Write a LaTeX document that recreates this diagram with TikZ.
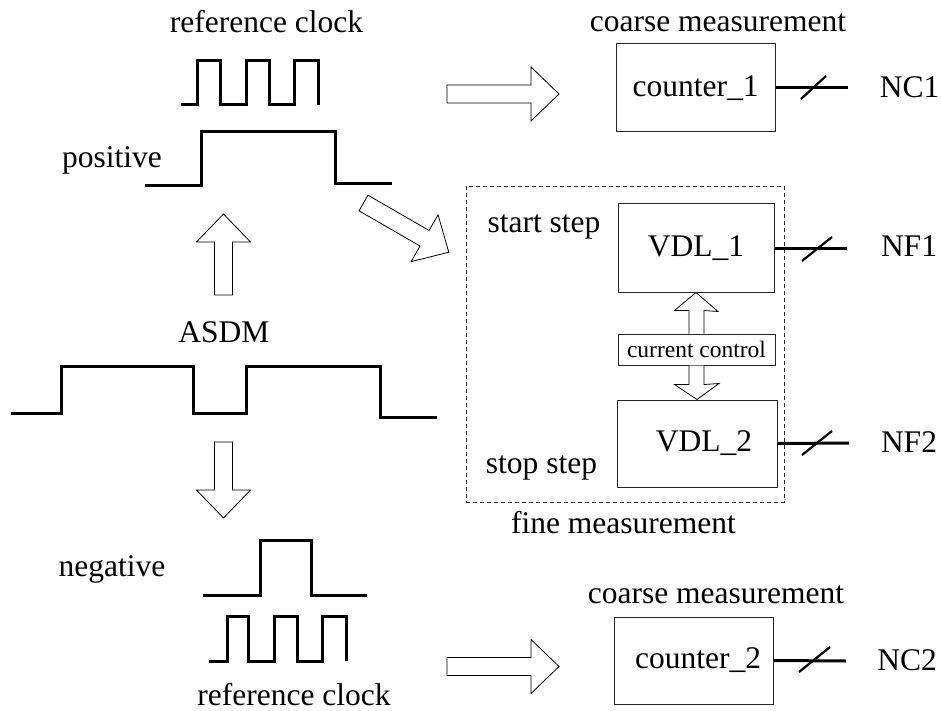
\documentclass[tikz,border=0pt]{standalone}
\usepackage{fontspec}
\setmainfont{Liberation Serif}
\usetikzlibrary{calc}
\newcommand{\hollowarrow}[4]{%
  \draw[hol, shift={(#1,#2)}, rotate=#3] (0,-9) -- (#4-28,-9) -- (#4-28,-27) -- (#4,0) -- (#4-28,27) -- (#4-28,9) -- (0,9) -- cycle;}
\begin{document}
\begin{tikzpicture}[x=1pt,y=-1pt,
  lbl/.style={font=\fontsize{31.5}{37}\selectfont, inner sep=0pt, anchor=base},
  wave/.style={line width=3pt, line join=miter},
  blk/.style={draw=black!85, line width=1pt, inner sep=0pt, font=\fontsize{31.5}{37}\selectfont},
  outl/.style={line width=3pt},
  slash/.style={line width=2.2pt},
  hol/.style={draw=black, line width=0.8pt, fill=white, line join=miter}]
\useasboundingbox (0,0) rectangle (941,711);

% ---- labels ----
\node[lbl] (refclk1) at (266.5,33) {reference clock};
\node[lbl] (coarse1) at (718,32) {coarse measurement};
\node[lbl] (pos) at (112,168) {positive};
\node[lbl] (asdm) at (224,342) {ASDM};
\node[lbl] (neg) at (112,576) {negative};
\node[lbl] (refclk2) at (294,705) {reference clock};
\node[lbl] (coarse2) at (716,603) {coarse measurement};
\node[lbl] (start) at (544,233) {start step};
\node[lbl] (stop) at (541.5,473) {stop step};
\node[lbl] (fine) at (623.5,533) {fine measurement};
\node[lbl] (nc1) at (909.5,98) {NC1};
\node[lbl] (nf1) at (909,256) {NF1};
\node[lbl] (nf2) at (909,452) {NF2};
\node[lbl] (nc2) at (907,670) {NC2};

% ---- waveforms ----
\draw[wave] (181,105) -- (197,105) -- (197,61) -- (220,61) -- (220,105) -- (246,105) -- (246,61) -- (269,61) -- (269,105) -- (294,105) -- (294,61) -- (318,61) -- (318,105);
\draw[wave] (145,186) -- (201,186) -- (201,132) -- (335,132) -- (335,184) -- (392,184);
\draw[wave] (11,413) -- (61,413) -- (61,366) -- (193,366) -- (193,413) -- (246,413) -- (246,366) -- (380,366) -- (380,417) -- (437,417);
\draw[wave] (203,595) -- (260,595) -- (260,540) -- (311,540) -- (311,595) -- (367,595);
\draw[wave] (209,661) -- (227,661) -- (227,616) -- (248,616) -- (248,661) -- (274,661) -- (274,616) -- (297,616) -- (297,661) -- (322,661) -- (322,616) -- (346,616) -- (346,661);

% ---- hollow arrows ----
\hollowarrow{447}{94}{0}{112}
\hollowarrow{447}{666.5}{0}{112}
\hollowarrow{363.5}{203}{-30}{98.5}
\hollowarrow{223.5}{295}{90}{81}
\hollowarrow{223.5}{442}{-90}{76}

% ---- blocks ----
\node[blk, minimum width=159, minimum height=88] (c1) at (695.5,88) {counter\_1};
\node[blk, minimum width=159, minimum height=87] (c2) at (693.5,660.5) {\hspace*{9pt}counter\_2};
\node[draw=black!85, line width=0.8pt, dash pattern=on 4pt off 3pt, minimum width=318, minimum height=316, inner sep=0pt] (finebox) at (625,344) {};
\node[blk, minimum width=156, minimum height=88] (v1) at (696,248) {VDL\_1};
\node[blk, minimum width=160, minimum height=87] (v2) at (697,443.5) {\hspace*{14pt}VDL\_2};
\node[blk, minimum width=157, minimum height=31, font=\fontsize{23.5}{28}\selectfont] (cc) at (696.5,349.5) {current control};

% ---- small double arrow ----
\draw[hol] ($(cc.north)+(-7.5,0)$) -- ++(0,-23) -- ++(-14.5,0) -- (v1.south) -- ($(v1.south)+(22,19)$) -- ($(cc.north)+(7.5,-23)$) -- ($(cc.north)+(7.5,0)$);
\draw[hol] ($(cc.south)+(-7.5,0)$) -- ++(0,19) -- ++(-14.5,0) -- (v2.north) -- ($(v2.north)+(22,-16)$) -- ($(cc.south)+(7.5,19)$) -- ($(cc.south)+(7.5,0)$);

% ---- outputs ----
\coordinate (o1) at (848,88);
\coordinate (o2) at (847,248);
\coordinate (o3) at (849,443);
\coordinate (o4) at (846,661);
\draw[outl] (c1.east) -- (o1);
\draw[outl] (v1.east) -- (o2);
\draw[outl] (v2.east) -- (o3);
\draw[outl] (c2.east) -- (o4);
\draw[slash] (801,99) -- (826,76);
\draw[slash] (802,261) -- (832,237);
\draw[slash] (802,455) -- (832,431);
\draw[slash] (799,672) -- (830,647);
\end{tikzpicture}
\end{document}
